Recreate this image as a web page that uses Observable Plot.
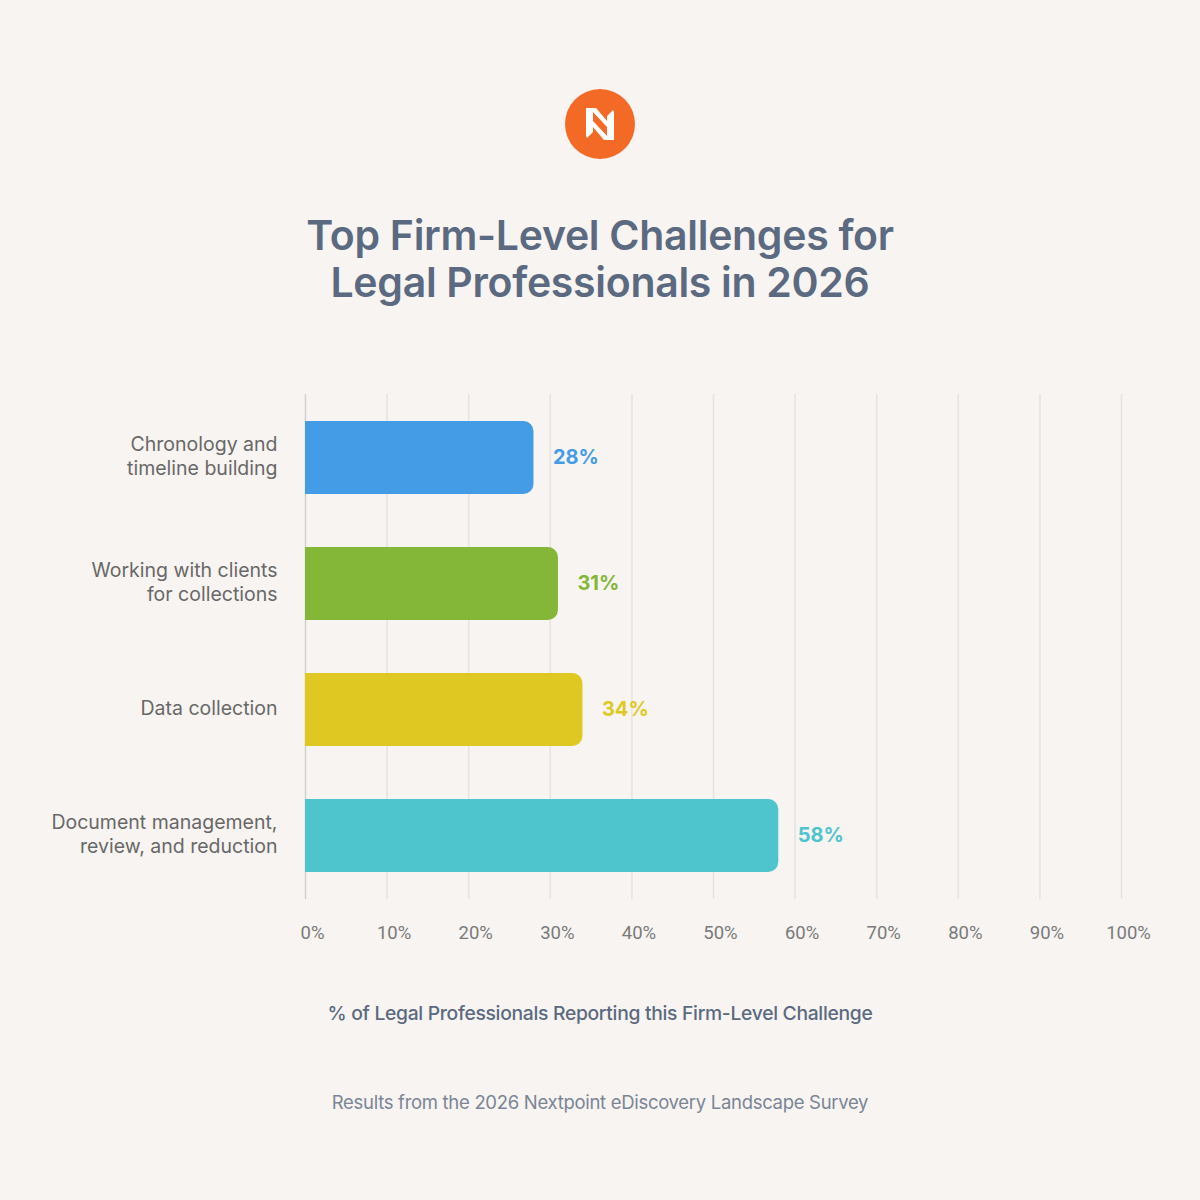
<!DOCTYPE html>
<html>
<head>
<meta charset="utf-8">
<script src="https://cdn.jsdelivr.net/npm/d3@7"></script>
<script src="https://cdn.jsdelivr.net/npm/@observablehq/plot@0.6"></script>
<style>
  html, body { margin: 0; padding: 0; background: #f7f4f1; }
  #page { position: relative; width: 1200px; height: 1200px; background: #f7f4f1; overflow: hidden; font-family: Inter, "Noto Sans", sans-serif; }
  #logo { position: absolute; left: 565px; top: 89px; width: 70px; height: 70px; }
  #title { position: absolute; left: 0; width: 1200px; top: 212px; text-align: center; font-size: 41px; font-weight: 600; line-height: 47px; color: #5b6a80; letter-spacing: -0.3px; }
  #chart { position: absolute; left: 0; top: 370px; }
  #xlabel { position: absolute; left: 0; width: 1200px; top: 1001px; text-align: center; font-size: 19.3px; font-weight: 500; color: #5b6a80; letter-spacing: -0.3px; }
  #caption { position: absolute; left: 0; width: 1200px; top: 1091px; text-align: center; font-size: 18.5px; font-weight: 400; color: #7b8596; letter-spacing: -0.3px; }
</style>
</head>
<body>
<div id="page">
  <svg id="logo" viewBox="0 0 70 70" width="70" height="70">
    <circle cx="35" cy="35" r="35" fill="#f26a26"></circle>
    <path d="M21,19 L31,19 L42,32 L42,38 L28,23 L28,43 L22,49 L21,47 Z" fill="#ffffff"></path>
    <path d="M49,51 L39,51 L28,38 L28,32 L42,47 L42,27 L48,21 L49,23 Z" fill="#ffffff"></path>
  </svg>
  <div id="title">Top Firm-Level Challenges for<br>Legal Professionals in 2026</div>
  <div id="chart"></div>
  <div id="xlabel">% of Legal Professionals Reporting this Firm-Level Challenge</div>
  <div id="caption">Results from the 2026 Nextpoint eDiscovery Landscape Survey</div>
</div>
<script>
const categories = [
  "Chronology and timeline building",
  "Working with clients for collections",
  "Data collection",
  "Document management, review, and reduction"
];
const categoryLabels = [
  "Chronology and\ntimeline building",
  "Working with clients\nfor collections",
  "Data collection",
  "Document management,\nreview, and reduction"
];
const values = [28, 31, 34, 58];
const colors = ["#439ce5", "#84b637", "#dfc821", "#4ec4cc"];
const tickValues = [0, 10, 20, 30, 40, 50, 60, 70, 80, 90, 100];
const tickLabels = ["0%", "10%", "20%", "30%", "40%", "50%", "60%", "70%", "80%", "90%", "100%"];

const data = categories.map((c, i) => ({category: c, label: categoryLabels[i], value: values[i], color: colors[i]}));
const labelOf = new Map(data.map(d => [d.category, d.label]));
const tickLabelOf = new Map(tickValues.map((t, i) => [t, tickLabels[i]]));

const chart = Plot.plot({
  width: 1200,
  height: 600,
  marginTop: 24,
  marginBottom: 71,
  marginLeft: 305,
  marginRight: 79,
  style: { background: "transparent", fontFamily: "Inter, 'Noto Sans', sans-serif" },
  x: { domain: [0, 100] },
  y: { domain: categories, paddingInner: 0.42, paddingOuter: 0.21 },
  marks: [
    Plot.ruleX(tickValues.slice(1), { stroke: "#e7e3df", strokeWidth: 1.5 }),
    Plot.ruleX([0], { stroke: "#d4d1cd", strokeWidth: 1.5 }),
    Plot.barX(data, { y: "category", x: "value", fill: "color", rx: 10 }),
    Plot.barX(data, { y: "category", x1: 0, x2: d => d.value / 2, fill: "color" }),
    Plot.text(data, { y: "category", x: "value", text: d => d.value + "%", fill: "color", dx: 19, textAnchor: "start", fontSize: 20, fontWeight: 700 }),
    Plot.axisY({ tickSize: 0, tickPadding: 28, tickFormat: d => labelOf.get(d), fontSize: 19.5, lineHeight: 1.28, dy: -3, color: "#686868", label: null }),
    Plot.axisX({ ticks: tickValues, tickSize: 0, tickPadding: 26, tickFormat: d => tickLabelOf.get(d), fontSize: 18.5, dx: 7, color: "#7a7a7a", fontFamily: "Roboto, sans-serif", label: null })
  ]
});
document.getElementById("chart").appendChild(chart);
</script>
</body>
</html>
